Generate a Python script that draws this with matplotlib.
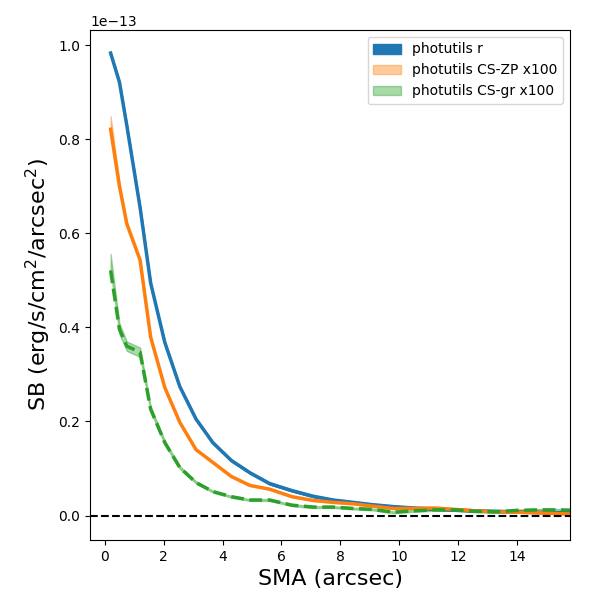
import matplotlib
matplotlib.use('Agg')
import matplotlib.pyplot as plt
import numpy as np

# surface brightness profiles, values in units of 1e-13 erg/s/cm^2/arcsec^2
sma = [0.2, 0.5, 0.75, 1.2, 1.56, 2.04, 2.55, 3.1, 3.67, 4.3, 4.93, 5.6, 6.36,
       7.08, 7.76, 8.44, 9.1, 9.8, 10.5, 11.2, 11.9, 12.6, 13.3, 14.0, 14.7,
       15.4, 16.1]

sb_r = [0.983, 0.921, 0.829, 0.655, 0.494, 0.368, 0.274, 0.205, 0.155, 0.117,
        0.091, 0.068, 0.053, 0.041, 0.033, 0.028, 0.023, 0.019, 0.016, 0.014,
        0.012, 0.010, 0.009, 0.008, 0.007, 0.006, 0.006]
sb_r_err = [0.002] * len(sma)

sb_zp = [0.821, 0.700, 0.620, 0.543, 0.379, 0.272, 0.198, 0.140, 0.113, 0.083,
         0.064, 0.056, 0.040, 0.032, 0.028, 0.025, 0.020, 0.015, 0.015, 0.016,
         0.013, 0.010, 0.008, 0.007, 0.006, 0.004, 0.003]
sb_zp_hi = [0.028, 0.008, 0.004, 0.003, 0.002, 0.002, 0.002, 0.001, 0.001, 0.001,
            0.001, 0.001, 0.001, 0.001, 0.001, 0.001, 0.001, 0.001, 0.001, 0.001,
            0.001, 0.001, 0.001, 0.001, 0.001, 0.001, 0.001]
sb_zp_lo = [0.002, 0.003, 0.002, 0.002, 0.002, 0.002, 0.001, 0.001, 0.001, 0.001,
            0.001, 0.001, 0.001, 0.001, 0.001, 0.001, 0.001, 0.001, 0.001, 0.001,
            0.001, 0.001, 0.001, 0.001, 0.001, 0.001, 0.001]

sb_gr = [0.521, 0.396, 0.360, 0.347, 0.226, 0.155, 0.102, 0.070, 0.051, 0.040,
         0.033, 0.033, 0.022, 0.018, 0.018, 0.015, 0.013, 0.007, 0.010, 0.012,
         0.012, 0.009, 0.008, 0.011, 0.012, 0.012, 0.011]
sb_gr_hi = [0.035, 0.012, 0.010, 0.010, 0.006, 0.004, 0.003, 0.003, 0.002, 0.002,
            0.002, 0.002, 0.002, 0.002, 0.002, 0.002, 0.002, 0.002, 0.002, 0.002,
            0.002, 0.002, 0.002, 0.002, 0.002, 0.002, 0.002]
sb_gr_lo = [0.003, 0.010, 0.010, 0.010, 0.005, 0.004, 0.003, 0.002, 0.002, 0.002,
            0.002, 0.002, 0.002, 0.002, 0.002, 0.002, 0.002, 0.002, 0.002, 0.002,
            0.002, 0.002, 0.002, 0.002, 0.002, 0.002, 0.002]

scale = 1e-13
x = np.array(sma)
r = np.array(sb_r) * scale
zp = np.array(sb_zp) * scale
gr = np.array(sb_gr) * scale

fig = plt.figure(figsize=(6, 6), dpi=100)
ax = fig.add_axes([0.15, 0.1, 0.8, 0.85])

ax.fill_between(x, r - np.array(sb_r_err) * scale, r + np.array(sb_r_err) * scale,
                color='tab:blue', alpha=1.0, label='photutils r')
ax.plot(x, r, color='tab:blue', lw=2.5)

ax.fill_between(x, zp - np.array(sb_zp_lo) * scale, zp + np.array(sb_zp_hi) * scale,
                color='tab:orange', alpha=0.4, label='photutils CS-ZP x100')
ax.plot(x, zp, color='tab:orange', lw=2.5)

ax.fill_between(x, gr - np.array(sb_gr_lo) * scale, gr + np.array(sb_gr_hi) * scale,
                color='tab:green', alpha=0.4, label='photutils CS-gr x100')
ax.plot(x, gr, color='tab:green', lw=2.5, ls='--')

ax.axhline(0, color='k', ls='--', lw=1.5)

ax.set_xlim(-0.5, 15.8)
ax.set_ylim(-0.052e-13, 1.032e-13)
ax.set_xlabel('SMA (arcsec)', fontsize=16)
ax.set_ylabel('SB (erg/s/cm$^2$/arcsec$^2$)', fontsize=16)
ax.legend(loc='upper right')

fig.savefig('out.png', dpi=100)
